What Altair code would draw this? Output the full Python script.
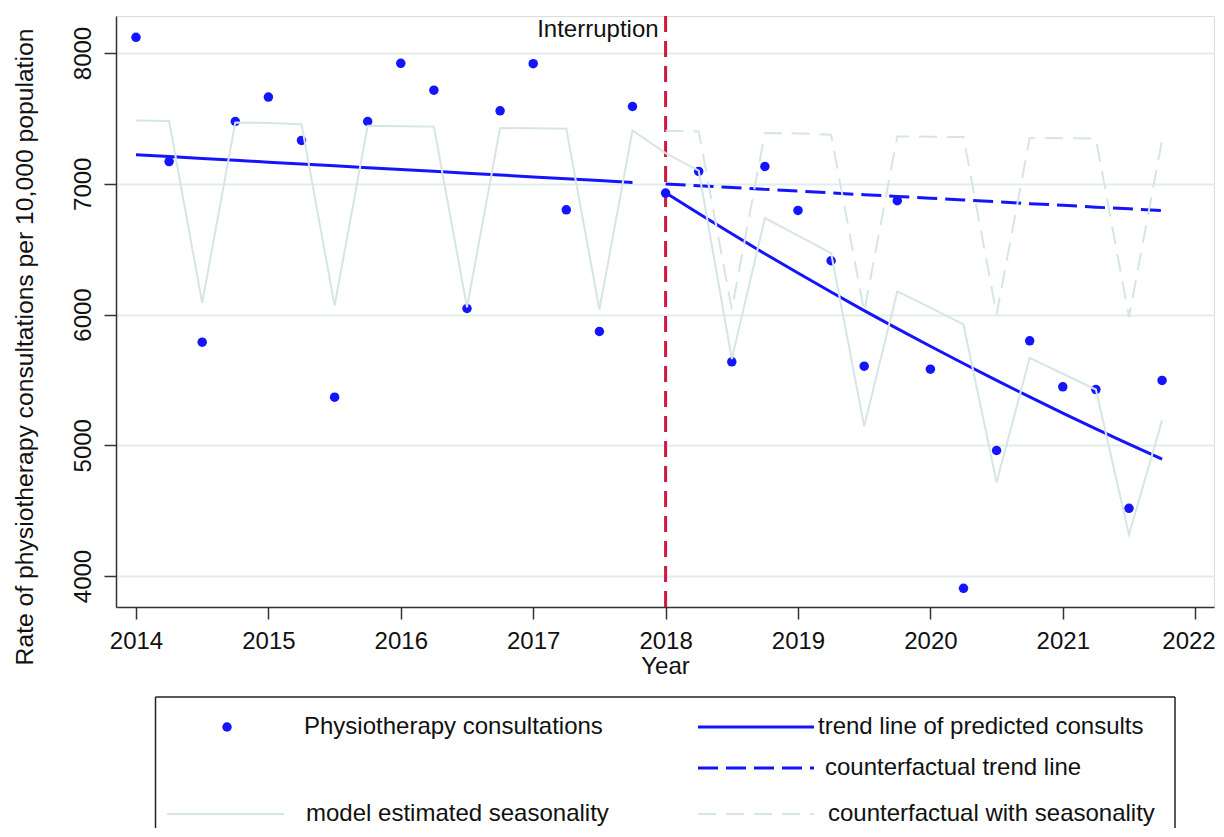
import altair as alt
import pandas as pd

# ---------------- data ----------------
quarters = [2014.00, 2014.25, 2014.50, 2014.75, 2015.00, 2015.25, 2015.50, 2015.75,
            2016.00, 2016.25, 2016.50, 2016.75, 2017.00, 2017.25, 2017.50, 2017.75,
            2018.00, 2018.25, 2018.50, 2018.75, 2019.00, 2019.25, 2019.50, 2019.75,
            2020.00, 2020.25, 2020.50, 2020.75, 2021.00, 2021.25, 2021.50, 2021.75]

consults = [8120, 7170, 5788, 7476, 7663, 7331, 5368, 7476,
            7921, 7716, 6046, 7558, 7918, 6801, 5870, 7591,
            6929, 7094, 5638, 7132, 6796, 6411, 5605, 6870,
            5582, 3906, 4960, 5799, 5447, 5426, 4518, 5496]

seasonality = [7484, 7480, 6089, 7469, 7465, 7456, 6069, 7443,
               7440, 7437, 6055, 7426, 7424, 7420, 6038, 7408,
               7235, 7100, 5660, 6738, 6604, 6470, 5145, 6177,
               6053, 5924, 4717, 5668, 5547, 5426, 4317, 5191]

pre_quarters = quarters[:16]
post_quarters = quarters[16:]

trend_pre = [7222, 7208, 7194, 7180, 7165, 7151, 7137, 7123,
             7109, 7095, 7081, 7067, 7052, 7038, 7024, 7010]
trend_post = [6931, 6772, 6617, 6465, 6317, 6172, 6030, 5892,
              5757, 5625, 5496, 5370, 5246, 5126, 5008, 4894]
cf_trend = [6998, 6984, 6971, 6957, 6944, 6930, 6916, 6903,
            6889, 6876, 6862, 6848, 6835, 6821, 6808, 6794]
cf_seasonality = [7405, 7400, 6040, 7388, 7385, 7375, 6020, 7362,
                  7360, 7357, 6000, 7350, 7348, 7345, 5980, 7336]

x_ticks = [2014, 2015, 2016, 2017, 2018, 2019, 2020, 2021, 2022]
y_ticks = [4000, 5000, 6000, 7000, 8000]
interruption = [2018]

legend_labels = ["Physiotherapy consultations", "trend line of predicted consults",
                 "counterfactual trend line", "model estimated seasonality",
                 "counterfactual with seasonality"]

# ---------------- styling ----------------
FONT = "Liberation Sans"
BLUE = "#1414ff"
LIGHT = "#d6e5e5"
GRID = "#e1ecec"
RED = "#d2173f"
AX = "#333333"
FS = 24

x_scale = alt.Scale(domain=[2013.849, 2022.142], nice=False, zero=False)
y_scale = alt.Scale(domain=[3763, 8283], nice=False, zero=False)


def X():
    return alt.X("x:Q", scale=x_scale,
                 axis=alt.Axis(values=x_ticks, format="d", title="Year", grid=False,
                               tickSize=12, tickWidth=1.5, tickColor=AX,
                               domainColor=AX, domainWidth=1.5,
                               labelFontSize=FS, labelFont=FONT, labelColor="#111",
                               labelPadding=10, labelFlush=19.4, labelFlushOffset=20,
                               labelOverlap=False,
                               titleFontSize=FS, titleFont=FONT, titleColor="#111",
                               titleFontWeight="normal", titlePadding=1))


def Y():
    return alt.Y("y:Q", scale=y_scale,
                 axis=alt.Axis(values=y_ticks, format="d",
                               title="Rate of physiotherapy consultations per 10,000 population",
                               grid=True, gridColor=GRID, gridWidth=2,
                               tickSize=12, tickWidth=1.5, tickColor=AX,
                               domainColor=AX, domainWidth=1.5,
                               labelAngle=270, labelAlign="center", labelBaseline="bottom",
                               labelFontSize=FS, labelFont=FONT, labelColor="#111",
                               labelPadding=9, labelFlush=False, labelOverlap=False,
                               titleFontSize=24.7, titleFont=FONT, titleColor="#111",
                               titleFontWeight="normal", titlePadding=34, titleY=330.5))


df_pts = pd.DataFrame({"x": quarters, "y": consults})
df_seas = pd.DataFrame({"x": quarters, "y": seasonality})
df_trend = pd.DataFrame({"x": pre_quarters + post_quarters,
                         "y": trend_pre + trend_post,
                         "seg": ["pre"] * len(pre_quarters) + ["post"] * len(post_quarters)})
df_cf = pd.DataFrame({"x": post_quarters, "y": cf_trend})
df_cfs = pd.DataFrame({"x": post_quarters, "y": cf_seasonality})
df_int = pd.DataFrame({"x": interruption})

vline = alt.Chart(df_int).mark_rule(color=RED, strokeWidth=3, strokeDash=[16, 9]).encode(x=X())
int_text = alt.Chart(df_int).mark_text(text="Interruption", align="right", baseline="alphabetic",
                                       dx=-7, font=FONT, fontSize=FS, color="#111").encode(
    x=X(), y=alt.value(21))

points = alt.Chart(df_pts).mark_circle(size=90, color=BLUE, opacity=1).encode(x=X(), y=Y())
trend = alt.Chart(df_trend).mark_line(color=BLUE, strokeWidth=3).encode(
    x=X(), y=Y(), detail="seg:N")
cf = alt.Chart(df_cf).mark_line(color=BLUE, strokeWidth=3, strokeDash=[20, 8]).encode(x=X(), y=Y())
seas = alt.Chart(df_seas).mark_line(color=LIGHT, strokeWidth=2).encode(x=X(), y=Y())
cfs = alt.Chart(df_cfs).mark_line(color=LIGHT, strokeWidth=2, strokeDash=[18, 10]).encode(x=X(), y=Y())

# ---------------- legend (drawn below the plot) ----------------
one = alt.Data(values=[{"k": 1}])
BOX_L, BOX_R, BOX_T, BOX_B = 39.5, 1059, 681, 812
R1, R2, R3 = 711, 752, 798

box = [
    alt.Chart(one).mark_rule(color="#222", strokeWidth=1.5).encode(
        x=alt.value(BOX_L), x2=alt.value(BOX_R), y=alt.value(BOX_T)),
    alt.Chart(one).mark_rule(color="#222", strokeWidth=1.5).encode(
        x=alt.value(BOX_L), y=alt.value(BOX_T), y2=alt.value(BOX_B)),
    alt.Chart(one).mark_rule(color="#222", strokeWidth=1.5).encode(
        x=alt.value(BOX_R), y=alt.value(BOX_T), y2=alt.value(BOX_B)),
]


def key_line(x1, x2, y, color, width, dash=None):
    kw = dict(color=color, strokeWidth=width)
    if dash:
        kw["strokeDash"] = dash
    return alt.Chart(one).mark_rule(**kw).encode(x=alt.value(x1), x2=alt.value(x2), y=alt.value(y))


def key_text(x, y, label):
    return alt.Chart(one).mark_text(text=label, align="left", baseline="middle", font=FONT,
                                    fontSize=FS, color="#111").encode(x=alt.value(x), y=alt.value(y))


legend = box + [
    alt.Chart(one).mark_circle(size=90, color=BLUE, opacity=1).encode(x=alt.value(111), y=alt.value(R1)),
    key_text(188, R1, legend_labels[0]),
    key_line(582, 698, R1, BLUE, 3),
    key_text(702, R1, legend_labels[1]),
    key_line(582, 698, R2, BLUE, 3, [20, 8]),
    key_text(709, R2, legend_labels[2]),
    key_line(51, 168, R3, LIGHT, 2),
    key_text(190, R3, legend_labels[3]),
    key_line(582, 698, R3, LIGHT, 2, [18, 10]),
    key_text(712, R3, legend_labels[4]),
]

chart = alt.layer(vline, points, trend, cf, seas, cfs, int_text, *legend).properties(
    width=1098, height=591,
    padding={"left": 108, "top": 8, "right": 2, "bottom": 221},
    autosize=alt.AutoSizeParams(type="none"),
).configure_view(stroke=None).configure(background="white")

chart.save("out.html", embed_options={"renderer": "svg", "actions": False})
